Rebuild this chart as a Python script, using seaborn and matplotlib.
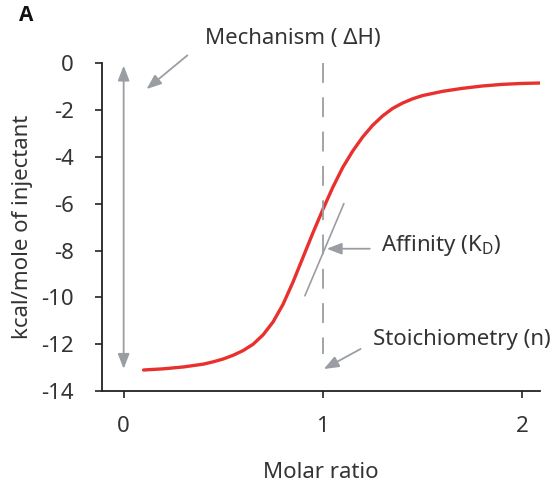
import matplotlib
matplotlib.use("Agg")
import matplotlib.pyplot as plt
import seaborn as sns
import numpy as np
import pandas as pd

# titration curve
molar_ratio = [0.10, 0.20, 0.30, 0.40, 0.45, 0.50, 0.55, 0.60, 0.65, 0.70,
               0.75, 0.80, 0.85, 0.90, 0.95, 1.00, 1.05, 1.10, 1.15, 1.20,
               1.25, 1.30, 1.35, 1.40, 1.45, 1.50, 1.60, 1.70, 1.80, 1.90,
               2.00, 2.10]
heat = [-13.1, -13.05, -12.97, -12.85, -12.75, -12.63, -12.47, -12.27, -12.0, -11.6,
        -11.05, -10.3, -9.35, -8.3, -7.25, -6.25, -5.3, -4.45, -3.75, -3.15,
        -2.65, -2.25, -1.93, -1.7, -1.52, -1.38, -1.2, -1.07, -0.97, -0.9,
        -0.86, -0.84]

x_ticks = [0, 1, 2]
y_ticks = [0, -2, -4, -6, -8, -10, -12, -14]

df = pd.DataFrame({"ratio": molar_ratio, "heat": heat})

sns.set_style("ticks")
plt.rcParams["font.family"] = ["Noto Sans", "DejaVu Sans"]
plt.rcParams["axes.unicode_minus"] = False

txt = "#333333"
grey = "#9a9ea3"
fs = 16

fig = plt.figure(figsize=(5.56, 4.87), dpi=100)
ax = fig.add_axes([0.183, 0.197, 0.788, 0.673])

sns.lineplot(data=df, x="ratio", y="heat", color="#e8312f", lw=2.4, ax=ax)

ax.set_xlim(-0.11, 2.09)
ax.set_ylim(-14, 0)
ax.set_xticks(x_ticks)
ax.set_yticks(y_ticks)
ax.tick_params(axis="x", labelsize=fs, colors=txt, length=5, width=1.2, pad=13)
ax.tick_params(axis="y", labelsize=fs, colors=txt, length=5, width=1.2, pad=15)
ax.tick_params(color="#222222")
for s in ["top", "right"]:
    ax.spines[s].set_visible(False)
for s in ["left", "bottom"]:
    ax.spines[s].set_linewidth(1.3)
    ax.spines[s].set_color("#222222")

ax.set_xlabel("Molar ratio", fontsize=fs, color=txt, labelpad=18)
ax.set_ylabel("kcal/mole of injectant", fontsize=fs, color=txt, labelpad=6)

arrow = dict(arrowstyle="-|>,head_length=0.9,head_width=0.35",
             color=grey, lw=1.3, shrinkA=0, shrinkB=0)

# mechanism (double arrow)
ax.annotate("", xy=(0, -0.1), xytext=(0, -13.05),
            arrowprops=dict(arrow, arrowstyle="<|-|>,head_length=0.9,head_width=0.35"))
ax.annotate("", xy=(0.115, -1.1), xytext=(0.32, 0.34), annotation_clip=False,
            arrowprops=arrow)
ax.text(0.85, 1.07, "Mechanism ( ΔH)", fontsize=fs, color=txt,
        ha="center", va="center", clip_on=False)

# stoichiometry (dashed line + arrow)
ax.plot([1, 1], [0, -12.4], color=grey, lw=1.3, ls=(0, (11, 8)))
ax.annotate("", xy=(1.005, -13.06), xytext=(1.19, -12.2), arrowprops=arrow)
ax.text(1.25, -11.8, "Stoichiometry (n)", fontsize=fs, color=txt,
        ha="left", va="center", clip_on=False)

# affinity (tangent + arrow)
ax.plot([0.91, 1.106], [-9.93, -5.99], color=grey, lw=1.2)
ax.annotate("", xy=(1.02, -7.92), xytext=(1.236, -7.92), arrowprops=arrow)
ax.text(1.29, -7.8, r"Affinity (K$_\mathregular{D}$)", fontsize=fs, color=txt,
        ha="left", va="center", clip_on=False)

fig.text(0.035, 0.968, "A", fontsize=15, fontweight="bold", color="#111111",
         family=["Open Sans", "DejaVu Sans"], ha="left", va="center")

fig.savefig("out.png", dpi=100)
